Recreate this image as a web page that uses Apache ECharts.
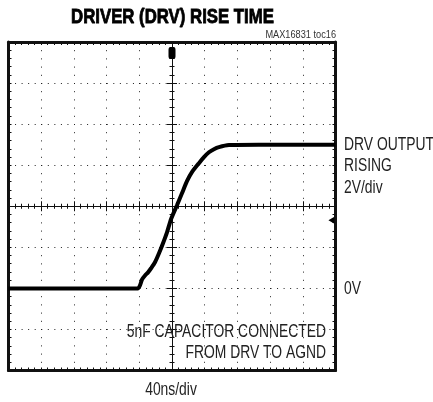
<!DOCTYPE html>
<html>
<head>
<meta charset="utf-8">
<script src="https://cdn.jsdelivr.net/npm/echarts@6/dist/echarts.min.js"></script>
<style>
	html,body{margin:0;padding:0;background:#fff;}
	#scope{width:433px;height:402px;}
</style>
</head>
<body>
<div id="scope"></div>
<script>
	var timeNs = [-200, -150, -89, -41.5, -39.1, -36.6, -33, -29.3, -25.6, -20.8, -15.9, -11, -6.1, -1.2, 6.1, 12.2, 18.3, 24.4, 33, 39.1, 45.2, 51.3, 57.4, 69.6, 106, 155, 200];
	var driveV = [-4.0, -4.0, -4.0, -4.0, -3.85, -3.56, -3.37, -3.22, -3.02, -2.73, -2.29, -1.80, -1.27, -0.63, 0.05, 0.63, 1.22, 1.66, 2.10, 2.39, 2.63, 2.78, 2.88, 2.98, 3.0, 3.0, 3.0];
	// scope markers: trigger position (top) and trigger level (right edge)
	var trigPos = [0, 7.46];
	var trigLevel = [195, -0.68];
	// 10 x 8 divisions, 40ns/div and 2V/div
	var xMin = -200, xMax = 200, xStep = 40;
	var yMin = -8, yMax = 8, yStep = 2;

	// no condensed face installed, so Liberation Sans gets squeezed sideways
	var face = '"Liberation Sans", Arial, sans-serif';
	var ink = '#111';

	var trace = [];
	for (var i = 0; i < timeNs.length; i++) {
		trace.push([timeNs[i], driveV[i]]);
	}

	function xAx(pos, frame, inside, grid) {
		return {
			type: 'value', position: pos, min: xMin, max: xMax, interval: xStep,
			axisLine: frame ? {onZero: false, lineStyle: {color: ink, width: 3}}
				: {onZero: true, onZeroAxisIndex: 0, lineStyle: {color: ink, width: 1}},
			axisTick: {show: true, inside: inside, length: frame ? 3 : 5, lineStyle: {color: ink}},
			minorTick: {show: true, splitNumber: 5, length: frame ? 3 : 2.5, lineStyle: {color: ink}},
			axisLabel: {show: false},
			splitLine: {show: grid, lineStyle: {color: '#222', width: 1, type: [1, 7.2]}}
		};
	}
	function yAx(pos, frame, inside, grid) {
		return {
			type: 'value', position: pos, min: yMin, max: yMax, interval: yStep,
			axisLine: frame ? {onZero: false, lineStyle: {color: ink, width: 3}}
				: {onZero: true, onZeroAxisIndex: 0, lineStyle: {color: ink, width: 1}},
			axisTick: {show: true, inside: inside, length: frame ? 3 : 5, lineStyle: {color: ink}},
			minorTick: {show: true, splitNumber: 5, length: frame ? 3 : 2.5, lineStyle: {color: ink}},
			axisLabel: {show: false},
			splitLine: {show: grid, lineStyle: {color: '#222', width: 1, type: [1, 5.55]}}
		};
	}

	function txt(x, y, s, font, align, squeeze, color, heavy) {
		var st = {text: s, font: font, fill: color || '#222', align: align, verticalAlign: 'middle'};
		if (heavy) {
			st.stroke = color;
			st.lineWidth = heavy;
		}
		return {type: 'text', x: x, y: y, z: 10, scaleX: squeeze, style: st};
	}

	var lbl = '18.5px ' + face;
	var chart = echarts.init(document.getElementById('scope'));
	var option = {
		animation: false,
		grid: {left: 8.5, top: 42, width: 327, height: 328.5, containLabel: false},
		xAxis: [
			xAx('bottom', true, true, true),
			xAx('top', true, true, false),
			xAx('bottom', false, true, false),
			xAx('bottom', false, false, false)
		],
		yAxis: [
			yAx('left', true, true, true),
			yAx('right', true, true, false),
			yAx('left', false, true, false),
			yAx('left', false, false, false)
		],
		series: [{
			name: 'DRV',
			type: 'line',
			data: trace,
			showSymbol: false,
			smooth: 0.2,
			lineStyle: {color: '#000', width: 4},
			z: 5,
			markPoint: {
				silent: true,
				label: {show: false},
				data: [
					{coord: trigPos, symbol: 'roundRect', symbolSize: [7, 12], itemStyle: {color: '#000'}},
					{coord: trigLevel, symbol: 'triangle', symbolSize: [7, 6], symbolRotate: 90, itemStyle: {color: '#000'}}
				]
			}
		}],
		graphic: [
			txt(172.5, 18, 'DRIVER (DRV) RISE TIME', 'bold 19.5px ' + face, 'center', 0.86, '#000', 0.8),
			txt(336, 35, 'MAX16831 toc16', '11.5px ' + face, 'right', 0.8, '#333'),
			txt(344, 145, 'DRV OUTPUT', lbl, 'left', 0.75),
			txt(344, 165.5, 'RISING', lbl, 'left', 0.75),
			txt(344, 187.5, '2V/div', lbl, 'left', 0.75),
			txt(344, 289, '0V', lbl, 'left', 0.75),
			txt(326, 332, '5nF CAPACITOR CONNECTED', lbl, 'right', 0.75),
			txt(326, 353, 'FROM DRV TO AGND', lbl, 'right', 0.75),
			txt(171, 390, '40ns/div', lbl, 'center', 0.75)
		]
	};
	chart.setOption(option);
</script>
</body>
</html>
